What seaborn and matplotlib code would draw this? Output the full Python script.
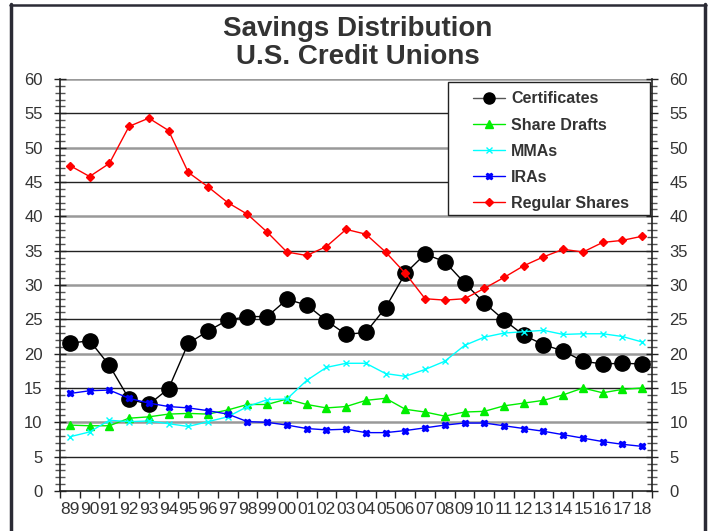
import matplotlib
matplotlib.use("Agg")
import matplotlib.pyplot as plt
import matplotlib.ticker as mticker
from matplotlib.lines import Line2D
from matplotlib.patches import Rectangle
import numpy as np
import pandas as pd
import seaborn as sns

# Year labels (two-digit), 1989-2018
years = ["89", "90", "91", "92", "93", "94", "95", "96", "97", "98",
         "99", "00", "01", "02", "03", "04", "05", "06", "07", "08",
         "09", "10", "11", "12", "13", "14", "15", "16", "17", "18"]

# Share of total savings (%) by account type
certificates = [21.5, 21.9, 18.3, 13.4, 12.6, 14.9, 21.5, 23.3, 24.9, 25.4,
                25.4, 27.9, 27.1, 24.8, 22.8, 23.1, 26.7, 31.7, 34.5, 33.4,
                30.3, 27.4, 24.9, 22.7, 21.3, 20.4, 18.9, 18.5, 18.6, 18.5]
share_drafts = [9.6, 9.5, 9.5, 10.6, 10.8, 11.2, 11.3, 11.2, 11.8, 12.6,
                12.6, 13.4, 12.6, 12.1, 12.3, 13.2, 13.5, 11.9, 11.5, 10.9,
                11.5, 11.6, 12.4, 12.8, 13.2, 14.0, 15.0, 14.3, 14.8, 15.0]
mmas = [7.9, 8.6, 10.3, 10.1, 10.2, 9.8, 9.4, 10.1, 10.8, 12.3,
        13.3, 13.4, 16.1, 18.0, 18.6, 18.6, 17.1, 16.7, 17.7, 18.9,
        21.2, 22.4, 23.0, 23.2, 23.4, 22.8, 22.9, 22.9, 22.5, 21.7]
iras = [14.2, 14.6, 14.7, 13.5, 12.8, 12.3, 12.1, 11.7, 11.2, 10.1,
        10.0, 9.6, 9.1, 8.9, 9.0, 8.5, 8.5, 8.8, 9.2, 9.6,
        9.9, 9.9, 9.5, 9.1, 8.7, 8.2, 7.7, 7.2, 6.8, 6.5]
regular_shares = [47.4, 45.8, 47.7, 53.1, 54.3, 52.5, 46.4, 44.3, 42.0, 40.3,
                  37.7, 34.8, 34.3, 35.6, 38.1, 37.4, 34.8, 31.7, 28.0, 27.8,
                  28.0, 29.5, 31.1, 32.8, 34.1, 35.2, 34.8, 36.2, 36.5, 37.1]

series = [
    ("Certificates", certificates, "black", "o", 11, "black"),
    ("Share Drafts", share_drafts, "#00ee00", "^", 6, "#00ee00"),
    ("MMAs", mmas, "cyan", "x", 5, "cyan"),
    ("IRAs", iras, "blue", "X", 5, "blue"),
    ("Regular Shares", regular_shares, "red", "D", 4, "red"),
]

sns.set_style("white")
plt.rcParams["font.family"] = ["Liberation Sans", "DejaVu Sans"]
text_color = "#333333"

fig = plt.figure(figsize=(7.12, 5.31), dpi=100)
ax = fig.add_axes([60 / 712, 40 / 531, 592 / 712, 412 / 531])

x = np.arange(len(years))

# Horizontal reference lines: grey at multiples of 10, dark in between
for level in range(5, 61, 5):
    if level % 10 == 0:
        ax.axhline(level, color="#999999", lw=1.8, zorder=0)
    else:
        ax.axhline(level, color="#222222", lw=1.0, zorder=0)

handles = []
for name, values, color, marker, msize, mcolor in series:
    df = pd.DataFrame({"x": x, "value": values})
    sns.lineplot(data=df, x="x", y="value", ax=ax, color=color, lw=1.0,
                 marker=marker, markersize=msize, markerfacecolor=mcolor,
                 markeredgecolor=mcolor, markeredgewidth=1.0, zorder=3)
    handles.append(Line2D([0], [0], color=color if name != "Certificates" else "#555555",
                          lw=1.0, marker=marker,
                          markersize=msize if name != "Certificates" else 8,
                          markerfacecolor=mcolor, markeredgecolor=mcolor))

ax.set_xlim(-0.5, len(years) - 0.5)
ax.set_ylim(0, 60)
ax.set_xlabel("")
ax.set_ylabel("")

# Axis spines
for side in ("left", "right", "bottom"):
    ax.spines[side].set_visible(True)
    ax.spines[side].set_color("#222222")
    ax.spines[side].set_linewidth(1.2)
ax.spines["top"].set_visible(False)

# Y ticks on both sides with unit minor ticks
ax.yaxis.set_major_locator(mticker.MultipleLocator(5))
ax.yaxis.set_minor_locator(mticker.MultipleLocator(1))
ax.tick_params(axis="y", which="major", direction="inout", length=9, width=1.0,
               color="#222222", left=True, right=True, labelleft=True,
               labelright=True, labelsize=12, labelcolor=text_color, pad=8)
ax.tick_params(axis="y", which="minor", direction="inout", length=7, width=1.0,
               color="#555555", left=True, right=True)

# X: ticks at category boundaries, labels centred on categories
ax.set_xticks(x)
ax.set_xticklabels(years)
ax.xaxis.set_minor_locator(mticker.FixedLocator(np.arange(-0.5, len(years), 1.0)))
ax.tick_params(axis="x", which="major", length=0, labelsize=12.5,
               labelcolor=text_color, pad=8)
ax.tick_params(axis="x", which="minor", direction="out", length=5, width=1.0,
               color="#222222", bottom=True)

# Legend box drawn as a white panel, entries placed inside it
legend_box = Rectangle((388 / 592, 276 / 412), 202 / 592, 133 / 412,
                       transform=ax.transAxes, facecolor="white",
                       edgecolor="#222222", lw=1.0, zorder=4)
ax.add_patch(legend_box)
leg = ax.legend(handles, [s[0] for s in series], loc="upper left",
                bbox_to_anchor=(413 / 592, 0.970), frameon=False,
                borderpad=0, labelspacing=0.7, handlelength=2.0,
                handletextpad=0.4, borderaxespad=0,
                prop={"weight": "bold", "size": 11.5})
for t in leg.get_texts():
    t.set_color(text_color)
leg.set_zorder(5)

fig.text(0.502, 0.945, "Savings Distribution", ha="center", va="center",
         fontsize=20, fontweight="bold", color=text_color)
fig.text(0.502, 0.892, "U.S. Credit Unions", ha="center", va="center",
         fontsize=20, fontweight="bold", color=text_color)

# Outer frame lines
frame_color = "#2b2b35"
fig.add_artist(Line2D([11 / 712, 11 / 712], [0, 1 - 4 / 531], color=frame_color, lw=2.5,
                      transform=fig.transFigure))
fig.add_artist(Line2D([705 / 712, 705 / 712], [0, 1 - 4 / 531], color=frame_color, lw=2.5,
                      transform=fig.transFigure))
fig.add_artist(Line2D([10 / 712, 706 / 712], [1 - 4.5 / 531, 1 - 4.5 / 531], color=frame_color,
                      lw=1.8, transform=fig.transFigure))

fig.savefig("out.png", dpi=100, facecolor="white")
